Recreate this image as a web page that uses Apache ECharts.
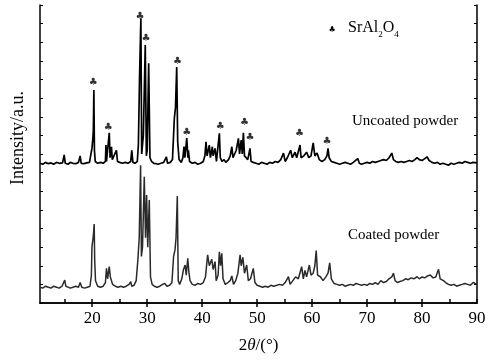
<!DOCTYPE html>
<html>
<head>
<meta charset="utf-8">
<script src="https://cdn.jsdelivr.net/npm/echarts@6/dist/echarts.min.js"></script>
<style>html,body{margin:0;padding:0;background:#fff}#c{width:495px;height:360px}</style>
</head>
<body>
<div id="c"></div>
<script>
// 2θ tick labels and tick positions
var xLabels = [20, 30, 40, 50, 60, 70, 80, 90];
var xMinorTicks = [15, 20, 25, 30, 35, 40, 45, 50, 55, 60, 65, 70, 75, 80, 85, 90];
var xTopTicks = [20, 30, 40, 50, 60, 70, 80];

// Uncoated powder pattern [2θ, intensity (offset, a.u.)]
var uncoated = [[10.5,7.5],[11,7.45],[11.5,7.55],[12,7.48],[12.5,7.52],[13,7.45],[13.5,7.55],[14,7.5],[14.6,7.52],[14.9,7.95],[15.1,7.5],[15.6,7.45],[16,7.55],[16.5,7.5],[17,7.48],[17.5,7.55],[17.8,7.9],[18,7.5],[18.5,7.48],[19,7.52],[19.5,7.55],[19.8,7.6],[19.95,8.3],[20.07,8.66],[20.2,9.2],[20.3,11.44],[20.4,8.2],[20.55,7.6],[21,7.5],[21.5,7.55],[22,7.5],[22.4,7.6],[22.5,8.48],[22.6,7.6],[22.9,7.7],[23.1,9.14],[23.25,7.8],[23.5,8.39],[23.65,7.7],[24,7.6],[24.4,8.2],[24.6,7.6],[25,7.55],[25.5,7.5],[26,7.55],[26.5,7.5],[27,7.6],[27.2,8.2],[27.4,7.55],[27.8,7.5],[28.2,7.6],[28.4,8.5],[28.6,12],[28.85,15.29],[29.0,8.0],[29.15,7.9],[29.3,9],[29.65,13.85],[29.85,7.9],[30.0,8.2],[30.27,12.87],[30.5,7.8],[30.8,7.6],[31.2,7.5],[31.6,7.48],[32,7.45],[32.5,7.5],[33,7.55],[33.5,7.84],[33.7,7.5],[34.2,7.55],[34.6,7.7],[34.94,9.93],[35.15,10.5],[35.37,12.67],[35.55,8.66],[35.8,7.7],[36.2,7.55],[36.5,7.8],[36.7,8.4],[36.85,7.8],[37.2,8.86],[37.4,7.8],[37.5,8.2],[37.7,7.6],[38.2,7.5],[38.7,7.55],[39.2,7.45],[39.7,7.5],[40.2,7.6],[40.5,7.9],[40.7,8.66],[40.9,7.9],[41.3,8.48],[41.5,7.8],[41.85,8.39],[42.0,7.9],[42.35,8.3],[42.6,7.6],[42.9,7.7],[43.13,9.11],[43.3,7.8],[43.6,7.6],[44,7.7],[44.3,7.55],[44.8,7.7],[45.1,7.9],[45.4,8.39],[45.6,7.8],[45.9,7.7],[46.2,8.2],[46.6,8.84],[46.8,8.0],[47.1,8.75],[47.3,8.0],[47.5,9.14],[47.7,7.9],[48.0,7.8],[48.3,7.7],[48.7,8.3],[48.9,7.6],[49.3,7.55],[49.8,7.5],[50.3,7.45],[50.8,7.55],[51.3,7.5],[51.8,7.45],[52.3,7.55],[52.8,7.5],[53.3,7.6],[53.8,7.55],[54.3,7.7],[54.8,8.05],[55.1,7.6],[55.5,7.8],[56.1,8.2],[56.4,7.8],[56.9,8.1],[57.2,7.8],[57.5,7.9],[57.8,8.48],[58.0,7.8],[58.5,7.9],[59.0,8.1],[59.4,7.8],[59.8,7.9],[60.2,8.6],[60.5,7.9],[60.9,8.05],[61.3,7.7],[61.8,7.6],[62.3,7.7],[62.7,7.9],[62.9,8.3],[63.1,7.8],[63.5,7.6],[64,7.55],[64.5,7.5],[65,7.45],[65.5,7.5],[66,7.55],[66.5,7.5],[67,7.45],[67.5,7.55],[68.3,7.75],[68.6,7.5],[69,7.45],[69.5,7.5],[70,7.55],[70.5,7.5],[71,7.6],[71.5,7.55],[72,7.6],[72.5,7.65],[73,7.7],[73.5,7.65],[74,7.8],[74.5,8.05],[74.8,7.7],[75.2,7.6],[75.7,7.55],[76.2,7.6],[76.7,7.55],[77.2,7.6],[77.7,7.65],[78.2,7.6],[78.7,7.7],[79.1,7.8],[79.5,7.7],[80,7.65],[80.5,7.75],[80.9,7.85],[81.3,7.65],[81.8,7.55],[82.3,7.5],[82.8,7.55],[83.3,7.45],[83.8,7.5],[84.3,7.45],[84.8,7.4],[85.3,7.5],[85.8,7.45],[86.3,7.5],[86.8,7.55],[87.3,7.5],[87.8,7.6],[88.3,7.55],[88.8,7.5],[89.3,7.55],[90,7.52]];

// Coated powder pattern [2θ, intensity (a.u.)]
var coated = [[10.5,0.85],[11,0.8],[11.5,0.9],[12,0.85],[12.5,0.8],[13,0.9],[13.5,0.85],[14,0.8],[14.5,0.9],[14.8,1.0],[15,1.23],[15.2,0.9],[15.6,0.85],[16,0.8],[16.5,0.85],[17,0.9],[17.5,0.85],[17.8,1.1],[18.1,0.85],[18.6,0.8],[19.1,0.85],[19.6,0.9],[19.85,1.5],[19.95,3.0],[20.07,3.29],[20.2,3.6],[20.36,4.24],[20.45,2.3],[20.6,1.2],[21,0.9],[21.5,0.85],[22,0.9],[22.4,1.1],[22.6,1.86],[22.8,1.3],[23.1,1.95],[23.3,1.4],[23.5,1.5],[23.7,1.0],[24.2,0.9],[24.7,0.85],[25.2,0.9],[25.7,0.85],[26.2,0.9],[26.7,1.0],[27.0,1.14],[27.2,0.9],[27.6,0.95],[28.0,1.2],[28.3,2.3],[28.55,3.5],[28.8,7.4],[28.95,2.5],[29.15,3.0],[29.47,6.78],[29.7,3.5],[29.9,5.8],[30.1,3.0],[30.38,5.53],[30.6,1.4],[30.9,1.0],[31.3,0.9],[31.8,0.85],[32.3,0.9],[32.8,1.0],[33.2,1.05],[33.6,0.9],[34.1,0.95],[34.5,1.1],[34.8,2.5],[35.06,2.85],[35.25,3.5],[35.48,5.74],[35.65,1.2],[35.9,1.0],[36.3,1.3],[36.6,1.8],[36.9,2.04],[37.1,1.5],[37.38,2.4],[37.6,1.6],[37.8,1.2],[38.2,1.0],[38.7,0.95],[39.2,1.05],[39.7,1.0],[40.2,1.1],[40.6,1.4],[41.0,2.58],[41.3,2.0],[41.75,2.35],[42.0,1.8],[42.35,2.22],[42.55,1.2],[42.9,1.5],[43.13,2.75],[43.35,2.0],[43.57,2.67],[43.8,1.3],[44.2,1.0],[44.7,1.1],[45.1,1.2],[45.4,1.45],[45.7,1.0],[46.1,1.2],[46.5,1.6],[46.9,2.58],[47.1,2.0],[47.4,2.45],[47.7,1.6],[48.1,2.04],[48.4,1.2],[48.8,1.3],[49.3,1.86],[49.6,1.1],[50,0.95],[50.5,0.9],[51,0.85],[51.5,0.9],[52,0.85],[52.5,0.95],[53,0.9],[53.6,0.95],[54.1,1.0],[54.6,0.95],[55.1,1.1],[55.7,1.41],[56.0,1.0],[56.5,1.2],[57,1.4],[57.5,1.3],[58.1,1.95],[58.4,1.3],[58.7,1.75],[59.0,1.4],[59.5,2.04],[59.8,1.5],[60.2,1.6],[60.5,2.0],[60.75,2.81],[61.0,1.5],[61.5,1.41],[62,1.2],[62.5,1.4],[62.9,1.6],[63.2,2.16],[63.5,1.3],[64,1.05],[64.5,1.0],[65,0.95],[65.5,1.0],[66,0.9],[66.5,0.95],[67,1.0],[67.5,0.95],[68,1.05],[68.5,1.0],[69,0.95],[69.5,1.0],[70,0.95],[70.5,1.05],[71,1.0],[71.5,1.1],[72,1.0],[72.5,1.2],[73,1.1],[73.5,1.15],[74,1.3],[74.5,1.4],[74.8,1.6],[75.1,1.2],[75.5,1.1],[76,1.15],[76.5,1.2],[77,1.3],[77.5,1.25],[78,1.35],[78.5,1.3],[79.1,1.41],[79.5,1.3],[80,1.4],[80.5,1.35],[81,1.45],[81.5,1.5],[82,1.35],[82.5,1.4],[83.0,1.81],[83.3,1.3],[83.9,1.2],[84.3,1.1],[84.8,1.0],[85.3,0.95],[85.8,1.0],[86.3,0.9],[86.8,0.95],[87.3,1.0],[87.8,1.05],[88.3,1.0],[88.8,0.95],[89.3,1.1],[90,1.0]];

// SrAl2O4 peak markers (♣) above the uncoated pattern
var clubAngles = [20.2, 22.9, 28.7, 29.8, 35.5, 37.2, 43.3, 47.7, 48.7, 57.7, 62.7];
var clubHeights = [11.87, 9.45, 15.41, 14.23, 12.99, 9.18, 9.5, 9.72, 8.91, 9.13, 8.70];

var clubs = clubAngles.map(function (a, i) { return [a, clubHeights[i]]; });

var serif = "'Liberation Serif', 'Times New Roman', serif";
var club = '\u2663\uFE0E';
var axisLineStyle = { color: '#000', width: 1.5 };

var chart = echarts.init(document.getElementById('c'), null, { renderer: 'canvas' });
chart.setOption({
  animation: false,
  backgroundColor: '#fff',
  grid: { left: 40, right: 18, top: 5, bottom: 57 },
  xAxis: [{
    type: 'value', min: 10.5, max: 90, position: 'bottom',
    axisLine: { lineStyle: axisLineStyle },
    axisTick: { inside: true, length: 4, customValues: xMinorTicks, lineStyle: axisLineStyle },
    axisLabel: { customValues: xLabels, color: '#000', fontFamily: serif, fontSize: 17, margin: 7 },
    splitLine: { show: false },
    name: '2{i|θ}/(°)', nameLocation: 'middle', nameGap: 34,
    nameTextStyle: { color: '#000', fontFamily: serif, fontSize: 17,
      rich: { i: { fontStyle: 'italic', fontFamily: serif, fontSize: 17, color: '#000' } } }
  }, {
    type: 'value', min: 10.5, max: 90, position: 'top',
    axisLine: { lineStyle: axisLineStyle },
    axisTick: { inside: true, length: 4, customValues: xTopTicks, lineStyle: axisLineStyle },
    axisLabel: { show: false }, splitLine: { show: false }
  }],
  yAxis: [{
    type: 'value', min: 0, max: 16, interval: 1, position: 'left',
    axisLine: { show: true, lineStyle: axisLineStyle },
    axisTick: { show: true, inside: true, length: 3, lineStyle: { color: '#000', width: 1 } },
    axisLabel: { show: false }, splitLine: { show: false }
  }, {
    type: 'value', min: 0, max: 16, interval: 1, position: 'right',
    axisLine: { show: true, lineStyle: axisLineStyle },
    axisTick: { show: true, inside: true, length: 3, lineStyle: { color: '#000', width: 1 } },
    axisLabel: { show: false }, splitLine: { show: false }
  }],
  series: [{
    name: 'Coated powder', type: 'line', data: coated, symbol: 'none',
    lineStyle: { color: '#2a2a2a', width: 1.5 }, z: 2
  }, {
    name: 'Uncoated powder', type: 'line', data: uncoated, symbol: 'none',
    lineStyle: { color: '#000', width: 1.7 }, z: 3
  }, {
    name: 'SrAl2O4', type: 'scatter', data: clubs, symbolSize: 1,
    itemStyle: { color: 'rgba(0,0,0,0)' },
    label: { show: true, position: 'inside', formatter: club, color: '#000',
      fontSize: 10, fontFamily: "'DejaVu Sans'" }, z: 4
  }],
  graphic: [{
    type: 'text', x: 18, y: 138, rotation: Math.PI / 2,
    style: { text: 'Intensity/a.u.', fill: '#000', font: "18px 'Liberation Serif', serif",
      textAlign: 'center', textVerticalAlign: 'middle' }
  }, {
    type: 'text', x: 332, y: 30,
    style: { text: club, fill: '#000', font: "8px 'DejaVu Sans'", textAlign: 'center', textVerticalAlign: 'middle' }
  }, {
    type: 'text', x: 348, y: 28,
    style: { text: 'SrAl{s|2}O{s|4}', fill: '#000', font: "16px 'Liberation Serif', serif",
      textVerticalAlign: 'middle',
      rich: { s: { fontSize: 9, fontFamily: serif, fill: '#000', verticalAlign: 'bottom', lineHeight: 22 } } }
  }, {
    type: 'text', x: 352, y: 121,
    style: { text: 'Uncoated powder', fill: '#000', font: "15px 'Liberation Serif', serif", textVerticalAlign: 'middle' }
  }, {
    type: 'text', x: 348, y: 235,
    style: { text: 'Coated powder', fill: '#000', font: "15px 'Liberation Serif', serif", textVerticalAlign: 'middle' }
  }]
});
</script>
</body>
</html>
